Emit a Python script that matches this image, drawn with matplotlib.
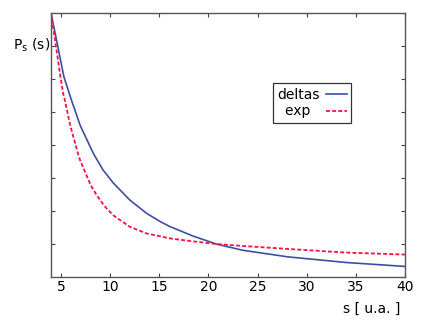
import matplotlib
matplotlib.use("Agg")
import matplotlib.pyplot as plt

# values (s in u.a., P_s on an arbitrary 0-8 scale)
s_deltas = [4.0, 4.63, 5.31, 6.08, 6.96, 8.14, 8.41, 9.3, 10.33, 12.02, 13.72,
            15.1, 16.08, 18.45, 20.8, 23.5, 28.1, 34.0, 40.0]
p_deltas = [8.0, 7.08, 6.07, 5.36, 4.60, 3.85, 3.69, 3.24, 2.85, 2.33, 1.93,
            1.68, 1.53, 1.24, 1.0, 0.81, 0.61, 0.44, 0.32]

s_exp = [4.0, 4.46, 4.96, 5.27, 5.41, 5.95, 6.79, 6.96, 8.04, 8.65, 9.4, 10.33,
         12.02, 13.72, 16.08, 18.45, 20.8, 23.5, 28.1, 34.0, 40.0]
p_exp = [8.0, 7.08, 6.07, 5.51, 5.36, 4.60, 3.69, 3.54, 2.78, 2.48, 2.16, 1.87,
         1.52, 1.32, 1.17, 1.08, 1.0, 0.94, 0.85, 0.74, 0.68]

x_ticks = [5, 10, 15, 20, 25, 30, 35, 40]
y_ticks = [1, 2, 3, 4, 5, 6, 7]

fig = plt.figure(figsize=(4.42, 3.24), dpi=100)
ax = fig.add_axes([51 / 442, 47 / 324, 354 / 442, 264 / 324])

ax.plot(s_deltas, p_deltas, color="#3d4ea6", lw=1.2, label="deltas")
ax.plot(s_exp, p_exp, color="#ff1040", lw=1.3, ls=(0, (2.2, 1.2)), label="exp  ")

ax.set_xlim(4, 40)
ax.set_ylim(0, 8)
ax.set_xticks(x_ticks)
ax.set_yticks(y_ticks)
ax.set_yticklabels([])
ax.tick_params(direction="in", length=3, width=0.8, color="#444444",
               top=True, right=True, labelsize=10, pad=2)
for sp in ax.spines.values():
    sp.set_color("#555555")
    sp.set_linewidth(1.0)

leg = ax.legend(loc="center", bbox_to_anchor=(0.737, 0.659), markerfirst=False,
                fancybox=False, framealpha=1, edgecolor="#333333",
                fontsize=10, handlelength=1.5, handletextpad=0.5,
                borderpad=0.3, labelspacing=0.2)
leg.get_frame().set_linewidth(0.9)

fig.text(400 / 442, 1 - 309 / 324, "s [ u.a. ]", ha="right", va="center", fontsize=10)
fig.text(13 / 442, 1 - 45 / 324, r"P$_\mathregular{s}$ (s)", ha="left", va="center", fontsize=10)

fig.savefig("out.png", dpi=100)
